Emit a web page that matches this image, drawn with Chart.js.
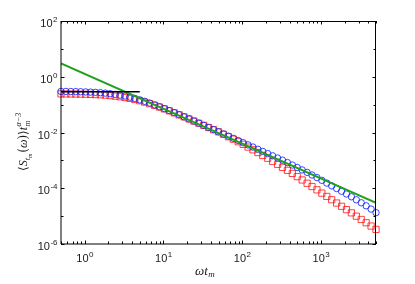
<!DOCTYPE html>
<html>
<head>
<meta charset="utf-8">
<script src="https://cdn.jsdelivr.net/npm/chart.js@4"></script>
<style>
  body { margin: 0; background: #fff; }
</style>
</head>
<body>
<canvas id="myChart" width="415" height="284"></canvas>
<script>
// omega * t_m (markers sit evenly on the log axis, 16 per decade)
const omegaT = [
  0.5, 0.577, 0.667, 0.770, 0.889, 1.027, 1.186, 1.369, 1.581, 1.826,
  2.109, 2.435, 2.812, 3.247, 3.750, 4.330, 5.0, 5.77, 6.67, 7.70,
  8.89, 10.27, 11.86, 13.69, 15.81, 18.26, 21.09, 24.35, 28.12, 32.47,
  37.50, 43.30, 50, 57.7, 66.7, 77.0, 88.9, 102.7, 118.6, 136.9,
  158.1, 182.6, 210.9, 243.5, 281.2, 324.7, 375.0, 433.0, 500, 577,
  667, 770, 889, 1027, 1186, 1369, 1581, 1826, 2109, 2435,
  2812, 3247, 3750, 4330, 5000
];

// blue circles
const blueSpec = [
  0.298, 0.297, 0.295, 0.293, 0.290, 0.286, 0.281, 0.275, 0.268, 0.259,
  0.247, 0.234, 0.219, 0.203, 0.185, 0.167, 0.148, 0.131, 0.114, 0.0983,
  0.0843, 0.0719, 0.0611, 0.0516, 0.0435, 0.0366, 0.0308, 0.0258, 0.0216, 0.0181,
  0.0151, 0.0127, 0.0106, 0.00885, 0.00740, 0.00618, 0.00515, 0.00431, 0.00360, 0.00301,
  0.00251, 0.00210, 0.00175, 0.00146, 0.00122, 0.00102, 8.34e-4, 6.81e-4, 5.56e-4, 4.54e-4,
  3.71e-4, 2.99e-4, 2.41e-4, 1.92e-4, 1.53e-4, 1.22e-4, 9.77e-5, 7.80e-5, 6.22e-5, 4.95e-5,
  3.86e-5, 3.01e-5, 2.35e-5, 1.79e-5, 1.33e-5
];

// red squares
const redSpec = [
  0.243, 0.242, 0.241, 0.240, 0.238, 0.236, 0.233, 0.229, 0.225, 0.219,
  0.211, 0.202, 0.192, 0.180, 0.167, 0.153, 0.138, 0.123, 0.108, 0.0945,
  0.0818, 0.0702, 0.0599, 0.0509, 0.0430, 0.0363, 0.0306, 0.0257, 0.0215, 0.0180,
  0.0151, 0.0126, 0.0106, 0.00865, 0.00706, 0.00577, 0.00466, 0.00376, 0.00300, 0.00239,
  0.00191, 0.00150, 0.00119, 9.25e-4, 7.21e-4, 5.62e-4, 4.39e-4, 3.41e-4, 2.60e-4, 1.98e-4,
  1.51e-4, 1.15e-4, 8.77e-5, 6.68e-5, 5.09e-5, 3.87e-5, 2.95e-5, 2.25e-5, 1.71e-5, 1.31e-5,
  9.95e-6, 7.59e-6, 5.78e-6, 4.40e-6, 3.35e-6
];

// power law guide (green) and plateau (black)
const greenX = [0.5, 5000];
const greenY = [3, 3e-5];
const plateauX = [0.5, 5];
const plateauY = [0.29, 0.29];

// axis ticks
const xTickVals = [1, 10, 100, 1000];
const xTickExp = ["0", "1", "2", "3"];
const yTickVals = [1e-6, 1e-4, 1e-2, 1, 100];
const yTickExp = ["-6", "-4", "-2", "0", "2"];
const yMinorVals = [1e-5, 1e-3, 1e-1, 10];

function toPoints(xs, ys) {
  return xs.map((x, i) => ({ x: x, y: ys[i] }));
}

// draws "10" with a raised exponent
function drawPow(ctx, x, y, exp, align) {
  ctx.font = "11px 'Liberation Sans', Arial, sans-serif";
  const w1 = ctx.measureText("10").width;
  ctx.font = "8px 'Liberation Sans', Arial, sans-serif";
  const w2 = ctx.measureText(exp).width;
  let left = x;
  if (align === "right") left = x - w1 - w2;
  if (align === "center") left = x - (w1 + w2) / 2;
  ctx.textAlign = "left";
  ctx.textBaseline = "alphabetic";
  ctx.font = "11px 'Liberation Sans', Arial, sans-serif";
  ctx.fillText("10", left, y);
  ctx.font = "8px 'Liberation Sans', Arial, sans-serif";
  ctx.fillText(exp, left + w1 + 0.5, y - 5);
}

// draws text pieces one after another, returns new x
function piece(ctx, text, x, y, font) {
  ctx.font = font;
  ctx.fillText(text, x, y);
  return x + ctx.measureText(text).width;
}

const axesBox = {
  id: "axesBox",
  afterDraw(chart) {
    const { ctx, chartArea: a, scales } = chart;
    const xs = scales.x, ys = scales.y;
    ctx.save();
    ctx.strokeStyle = "#000";
    ctx.lineWidth = 1;

    // frame
    ctx.beginPath();
    ctx.moveTo(a.left, a.top + 0.5); ctx.lineTo(a.right, a.top + 0.5);
    ctx.moveTo(a.right - 0.5, a.top); ctx.lineTo(a.right - 0.5, a.bottom);
    ctx.moveTo(a.left, a.bottom); ctx.lineTo(a.right, a.bottom);
    ctx.moveTo(a.left, a.top); ctx.lineTo(a.left, a.bottom);
    ctx.stroke();

    // x ticks
    ctx.beginPath();
    for (let d = 0.1; d < 10000; d *= 10) {
      for (let m = 1; m < 10; m++) {
        const v = d * m;
        if (v < 0.5 || v > 5000) continue;
        const len = m === 1 ? 3.5 : 2.5;
        const px = Math.round(xs.getPixelForValue(v)) + 0.5;
        ctx.moveTo(px, a.bottom); ctx.lineTo(px, a.bottom - len);
        ctx.moveTo(px, a.top); ctx.lineTo(px, a.top + len);
      }
    }
    // y ticks
    yTickVals.concat(yMinorVals).forEach((v, i) => {
      const len = i < yTickVals.length ? 3.5 : 2.5;
      const py = Math.round(ys.getPixelForValue(v)) + 0.5;
      ctx.moveTo(a.left, py); ctx.lineTo(a.left + len, py);
      ctx.moveTo(a.right, py); ctx.lineTo(a.right - len, py);
    });
    ctx.stroke();

    // tick labels
    ctx.fillStyle = "#1a1a1a";
    xTickVals.forEach((v, i) => {
      drawPow(ctx, xs.getPixelForValue(v), a.bottom + 18, xTickExp[i], "center");
    });
    yTickVals.forEach((v, i) => {
      drawPow(ctx, a.left - 4, ys.getPixelForValue(v) + 6, yTickExp[i], "right");
    });

    // x title: omega t_m
    const serifI = "italic 13px 'Liberation Serif', 'DejaVu Serif', serif";
    const serifS = "italic 9px 'Liberation Serif', 'DejaVu Serif', serif";
    ctx.textAlign = "left";
    let x = piece(ctx, "ωt", 195, 274.5, serifI);
    piece(ctx, "m", x + 0.5, 277, serifS);

    // y title: <S_{t_m}(omega)> t_m^{alpha-3}
    ctx.translate(27, 171);
    ctx.rotate(-Math.PI / 2);
    const up = "12px 'DejaVu Serif', 'Liberation Serif', serif";
    const it = "italic 12px 'Liberation Serif', 'DejaVu Serif', serif";
    const sub = "italic 8px 'Liberation Serif', 'DejaVu Serif', serif";
    const sub2 = "italic 6px 'Liberation Serif', 'DejaVu Serif', serif";
    x = piece(ctx, "⟨", 0, 0, up);
    x = piece(ctx, "S", x, 0, it);
    x = piece(ctx, "t", x, 3, sub);
    x = piece(ctx, "m", x, 5, sub2);
    x = piece(ctx, "(", x + 1, 0, up);
    x = piece(ctx, "ω", x, 0, it);
    x = piece(ctx, ")", x, 0, up);
    x = piece(ctx, "⟩", x, 0, up);
    x = piece(ctx, "t", x, 0, it);
    piece(ctx, "m", x + 0.5, 3, sub);
    piece(ctx, "α−3", x + 0.5, -6, sub);
    ctx.restore();
  }
};

const ctx = document.getElementById("myChart").getContext("2d");
const myChart = new Chart(ctx, {
  type: "scatter",
  data: {
    datasets: [
      {
        label: "plateau",
        data: toPoints(plateauX, plateauY),
        showLine: true,
        borderColor: "#000",
        borderWidth: 1.5,
        pointRadius: 0,
        order: 0,
      },
      {
        label: "power law",
        data: toPoints(greenX, greenY),
        showLine: true,
        borderColor: "#1fa01f",
        borderWidth: 2,
        pointRadius: 0,
        order: 1,
      },
      {
        label: "circles",
        data: toPoints(omegaT, blueSpec),
        showLine: false,
        pointStyle: "circle",
        pointRadius: 3.2,
        borderWidth: 1,
        borderColor: "rgba(20,40,255,0.85)",
        backgroundColor: "rgba(0,0,0,0)",
        clip: false,
        order: 2,
      },
      {
        label: "squares",
        data: toPoints(omegaT, redSpec),
        showLine: false,
        pointStyle: "rect",
        pointRadius: 4.4,
        borderWidth: 1,
        borderColor: "rgba(255,20,20,0.8)",
        backgroundColor: "rgba(0,0,0,0)",
        clip: false,
        order: 3,
      },
    ],
  },
  options: {
    responsive: false,
    animation: false,
    layout: { padding: { left: 61, right: 39, top: 21, bottom: 40 } },
    plugins: { legend: { display: false }, tooltip: { enabled: false } },
    scales: {
      x: { type: "logarithmic", min: 0.5, max: 5000, display: false },
      y: { type: "logarithmic", min: 1e-6, max: 100, display: false },
    },
  },
  plugins: [axesBox],
});
</script>
</body>
</html>
